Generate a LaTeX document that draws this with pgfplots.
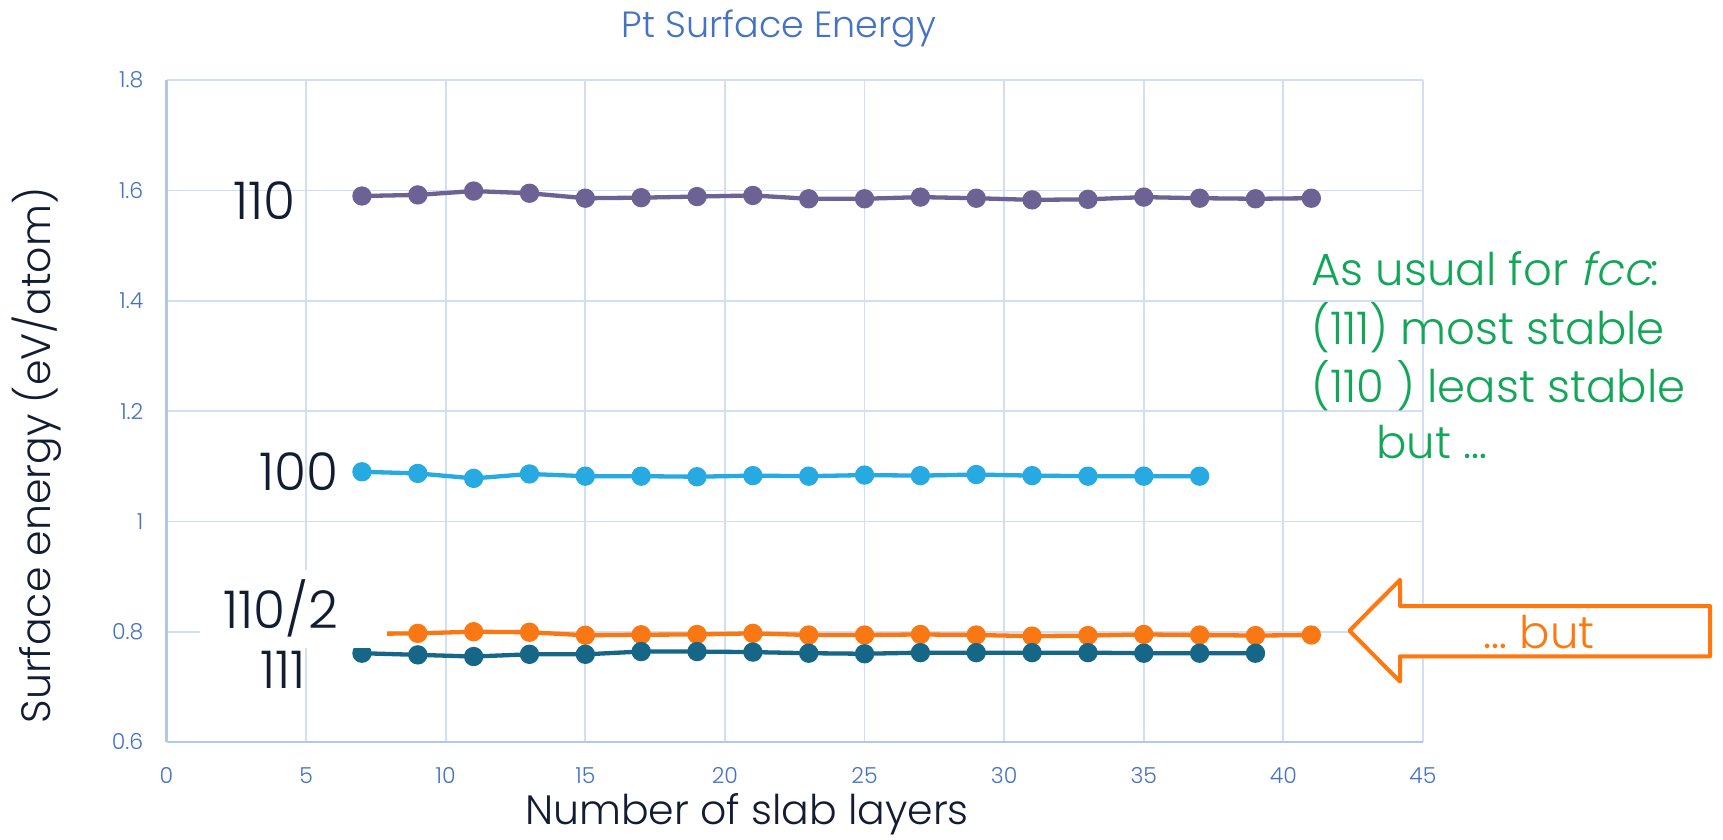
\documentclass[border=0pt]{standalone}
\usepackage{fontspec}
\setmainfont{Poppins Light}
\newfontface\slantfont{Poppins Light}[FakeSlant=0.2]
\usepackage{pgfplots}
\pgfplotsset{compat=1.18}
\definecolor{gridc}{RGB}{210,222,242}
\definecolor{axisc}{RGB}{178,200,234}
\definecolor{tblue}{RGB}{68,114,196}
\definecolor{darkt}{RGB}{18,28,50}
\definecolor{greent}{RGB}{18,166,88}
\definecolor{oranget}{RGB}{255,120,15}
\definecolor{cpurple}{RGB}{108,98,148}
\definecolor{clblue}{RGB}{38,170,225}
\definecolor{corange}{RGB}{250,120,20}
\definecolor{cteal}{RGB}{22,102,136}
\begin{document}
\begin{tikzpicture}
\useasboundingbox (0,0) rectangle (1723pt,839pt);
\begin{axis}[
  at={(166.5pt,97pt)}, anchor=south west,
  scale only axis, width=1256.5pt, height=661.8pt,
  xmin=0, xmax=45, ymin=0.6, ymax=1.8,
  xtick={0,5,...,45}, ytick={0.6,0.8,1,1.2,1.4,1.6,1.8},
  grid=major, major grid style={line width=1.8pt, color=gridc},
  axis lines*=left, axis line style={line width=2.5pt, color=axisc},
  major tick length=0pt,
  /pgf/number format/assume math mode=true,
  tick label style={font=\fontsize{22}{26}\selectfont, text=tblue, inner sep=0pt},
  xticklabel style={anchor=north, yshift=-25pt},
  yticklabel style={anchor=east, xshift=-23pt},
  clip=false,
  every axis plot/.append style={line width=4.3pt, mark=*, mark size=7.5pt},
]
\addplot[color=cpurple, mark options={fill=cpurple}] coordinates {
(7,1.590) (9,1.592) (11,1.599) (13,1.595) (15,1.586) (17,1.587) (19,1.589) (21,1.591) (23,1.585)
(25,1.585) (27,1.588) (29,1.586) (31,1.583) (33,1.584) (35,1.588) (37,1.586) (39,1.585) (41,1.586)};
\addplot[color=clblue, mark options={fill=clblue}] coordinates {
(7,1.090) (9,1.087) (11,1.078) (13,1.086) (15,1.082) (17,1.082) (19,1.081) (21,1.083) (23,1.082)
(25,1.084) (27,1.083) (29,1.085) (31,1.083) (33,1.082) (35,1.082) (37,1.082)};
\addplot[color=corange, mark options={fill=corange}] coordinates {
(7,0.796) (9,0.797) (11,0.800) (13,0.799) (15,0.7935) (17,0.7945) (19,0.795) (21,0.797) (23,0.794)
(25,0.794) (27,0.795) (29,0.794) (31,0.792) (33,0.793) (35,0.795) (37,0.794) (39,0.793) (41,0.794)};
\addplot[color=cteal, mark options={fill=cteal}] coordinates {
(7,0.761) (9,0.758) (11,0.755) (13,0.759) (15,0.759) (17,0.764) (19,0.764) (21,0.763) (23,0.761)
(25,0.760) (27,0.762) (29,0.762) (31,0.762) (33,0.762) (35,0.761) (37,0.761) (39,0.761)};
\end{axis}
% white label box behind 110/2
\fill[white] (200pt,191pt) rectangle (386.7pt,269pt);
% title and axis labels
\node[anchor=base, inner sep=0pt, font=\fontsize{36.5}{40}\selectfont, text=tblue] at (779pt,801.7pt) {Pt Surface Energy};
\node[anchor=base, inner sep=0pt, font=\fontsize{41}{48}\selectfont, text=darkt] at (747pt,15pt) {Number of slab layers};
\node[anchor=base, rotate=90, inner sep=0pt, font=\fontsize{41}{50}\selectfont, text=darkt] at (50pt,383.5pt) {Surface energy (eV/atom)};
% series labels
\begin{scope}[every node/.style={anchor=base west, inner sep=0pt, font=\fontsize{52}{56}\selectfont, text=darkt}]
\node at (233pt,619pt) {110};
\node at (259pt,349pt) {100};
\node at (223pt,210.7pt) {110/2};
\node at (260pt,151pt) {111};
\end{scope}
% green note
\begin{scope}[every node/.style={anchor=base west, inner sep=0pt, font=\fontsize{45}{50}\selectfont, text=greent}]
\node at (1311pt,553pt) {As usual for {\slantfont fcc}:};
\node at (1311pt,494.3pt) {(111) most stable};
\node at (1311pt,436.4pt) {(110 ) least stable};
\node at (1376pt,380.2pt) {but \dots};
\end{scope}
% arrow
\draw[oranget, line width=4pt, line join=round, fill=white]
  (1349.5pt,208.3pt) -- (1400pt,259.2pt) -- (1400pt,233pt) -- (1710pt,233pt)
  -- (1710pt,182.7pt) -- (1400pt,182.7pt) -- (1400pt,157.4pt) -- cycle;
\node[anchor=base west, inner sep=0pt, font=\fontsize{45}{50}\selectfont, text=oranget] at (1483.6pt,191pt) {\dots\ but};
\end{tikzpicture}
\end{document}
